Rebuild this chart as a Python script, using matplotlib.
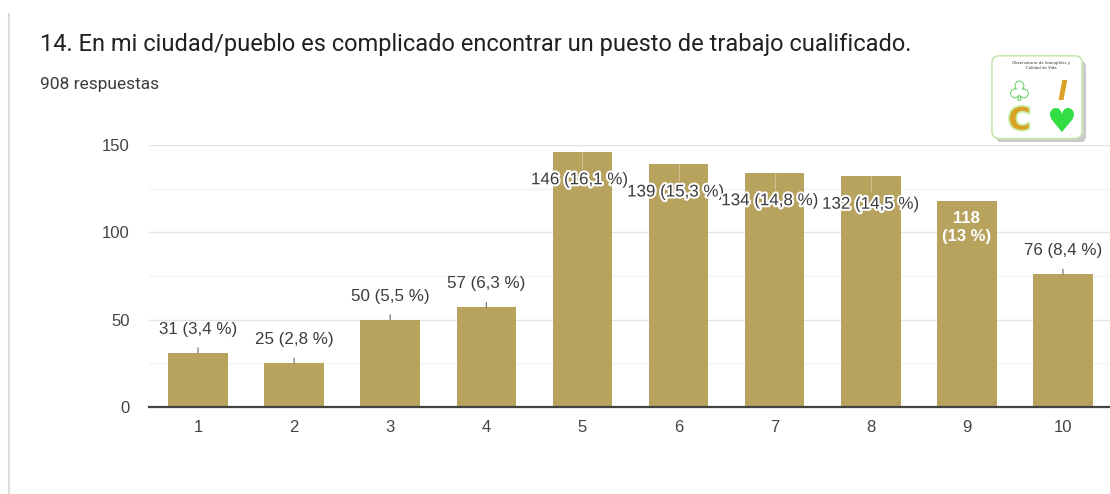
import matplotlib.pyplot as plt
import matplotlib.patheffects as pe
from matplotlib.patches import FancyBboxPatch
from matplotlib.lines import Line2D

categories = ['1', '2', '3', '4', '5', '6', '7', '8', '9', '10']
counts = [31, 25, 50, 57, 146, 139, 134, 132, 118, 76]
percents = ['3,4', '2,8', '5,5', '6,3', '16,1', '15,3', '14,8', '14,5', '13', '8,4']
# where each label sits: above the bar, inside with halo, or inside white
placement = ['above', 'above', 'above', 'above', 'inside', 'inside', 'inside', 'inside', 'white', 'above']
inside_shift = [0, 0, 0, 0, -0.03, -0.03, -0.05, 0, 0, 0]

title = '14. En mi ciudad/pueblo es complicado encontrar un puesto de trabajo cualificado.'
subtitle = '908 respuestas'

bar_color = '#b7a35e'
text_color = '#3c3c3c'

fig = plt.figure(figsize=(11.1, 4.94), dpi=100)
fig.patch.set_facecolor('white')

# faint card border on the left
fig.add_artist(Line2D([9 / 1110, 9 / 1110], [0, 1 - 14 / 494], transform=fig.transFigure,
                      color='#dcdcdc', lw=1.5))

fig.text(40 / 1110, 1 - 45 / 494, title, fontsize=17, family='Roboto', color='#202124', va='center')
fig.text(40 / 1110, 1 - 84 / 494, subtitle, fontsize=12.5, family='Roboto', color='#3c3c3c', va='center')

ax = fig.add_axes([149 / 1110, 87 / 494, (1110 - 149) / 1110, (407 - 145) / 494])
x = list(range(len(categories)))
ax.bar(x, counts, width=0.62, color=bar_color, zorder=3)
ax.set_xlim(-0.51, 9.49)
ax.set_ylim(0, 150)
ax.set_yticks([0, 50, 100, 150])
ax.set_yticks([25, 75, 125], minor=True)
ax.set_xticks(x)
ax.set_xticklabels(categories)
ax.grid(axis='y', which='major', color='#e3e3e3', lw=1, zorder=0)
ax.grid(axis='y', which='minor', color='#f3f3f3', lw=1, zorder=0)
for s in ax.spines.values():
    s.set_visible(False)
ax.axhline(0, color='#444444', lw=1.6, zorder=4, clip_on=False)
ax.tick_params(axis='both', which='both', length=0, labelsize=12, labelcolor='#444444')
ax.tick_params(axis='y', pad=14)
ax.tick_params(axis='x', pad=9)
for lbl in ax.get_xticklabels() + ax.get_yticklabels():
    lbl.set_family('Liberation Sans')

for xi, c, p, mode, dx in zip(x, counts, percents, placement, inside_shift):
    label = f'{c} ({p} %)'
    if mode == 'above':
        ax.annotate(label, xy=(xi, c), xytext=(0, 17), textcoords='offset points',
                    ha='center', va='center', fontsize=12.2, family='Liberation Sans', color=text_color,
                    arrowprops=dict(arrowstyle='-', color='#666666', lw=0.8, shrinkA=6, shrinkB=0),
                    zorder=5)
    elif mode == 'inside':
        ax.plot([xi, xi], [c, c - 9], color='#cfc28f', lw=0.8, zorder=4)
        ax.annotate(label, xy=(xi + dx, c), xytext=(0, -20), textcoords='offset points',
                    ha='center', va='center', fontsize=12.2, family='Liberation Sans', color=text_color,
                    path_effects=[pe.withStroke(linewidth=3, foreground='white')], zorder=5)
    else:
        ax.annotate(f'{c}\n({p} %)', xy=(xi, c), xytext=(0, -19), textcoords='offset points',
                    ha='center', va='center', fontsize=12, family='Liberation Sans', color='white',
                    fontweight='bold', linespacing=1.25, zorder=5)

# logo in the top-right corner
lax = fig.add_axes([990 / 1110, 1 - 142 / 494, 98 / 1110, 88 / 494])
lax.set_xlim(0, 1)
lax.set_ylim(0, 1)
lax.axis('off')
lax.add_patch(FancyBboxPatch((0.08, 0.01), 0.88, 0.9, boxstyle='round,pad=0.02,rounding_size=0.08',
                             fc='#a8a8a8', ec='none', alpha=0.6))
lax.add_patch(FancyBboxPatch((0.04, 0.06), 0.88, 0.9, boxstyle='round,pad=0.02,rounding_size=0.08',
                             fc='white', ec='#c8e6b0', lw=1.2))
lax.text(0.52, 0.87, 'Observatorio de Intangibles y\nCalidad de Vida', fontsize=2.8, ha='center',
         va='center', color='#333333')
lax.text(0.3, 0.56, '\u2663', fontsize=18, ha='center', va='center', color='white',
         path_effects=[pe.withStroke(linewidth=1.3, foreground='#55cc55')])
lax.text(0.74, 0.56, 'I', fontsize=19, fontweight='bold', style='italic', ha='center', va='center',
         color='#d9a227', family='DejaVu Sans')
lax.text(0.3, 0.24, 'C', fontsize=22, fontweight='bold', ha='center', va='center', color='#d9a227',
         family='DejaVu Sans', path_effects=[pe.withStroke(linewidth=2.5, foreground='#c9f0a8')])
lax.text(0.72, 0.22, '\u2665', fontsize=24, ha='center', va='center', color='#33dd44', family='DejaVu Sans')

fig.savefig('out.png', dpi=100, facecolor='white')
